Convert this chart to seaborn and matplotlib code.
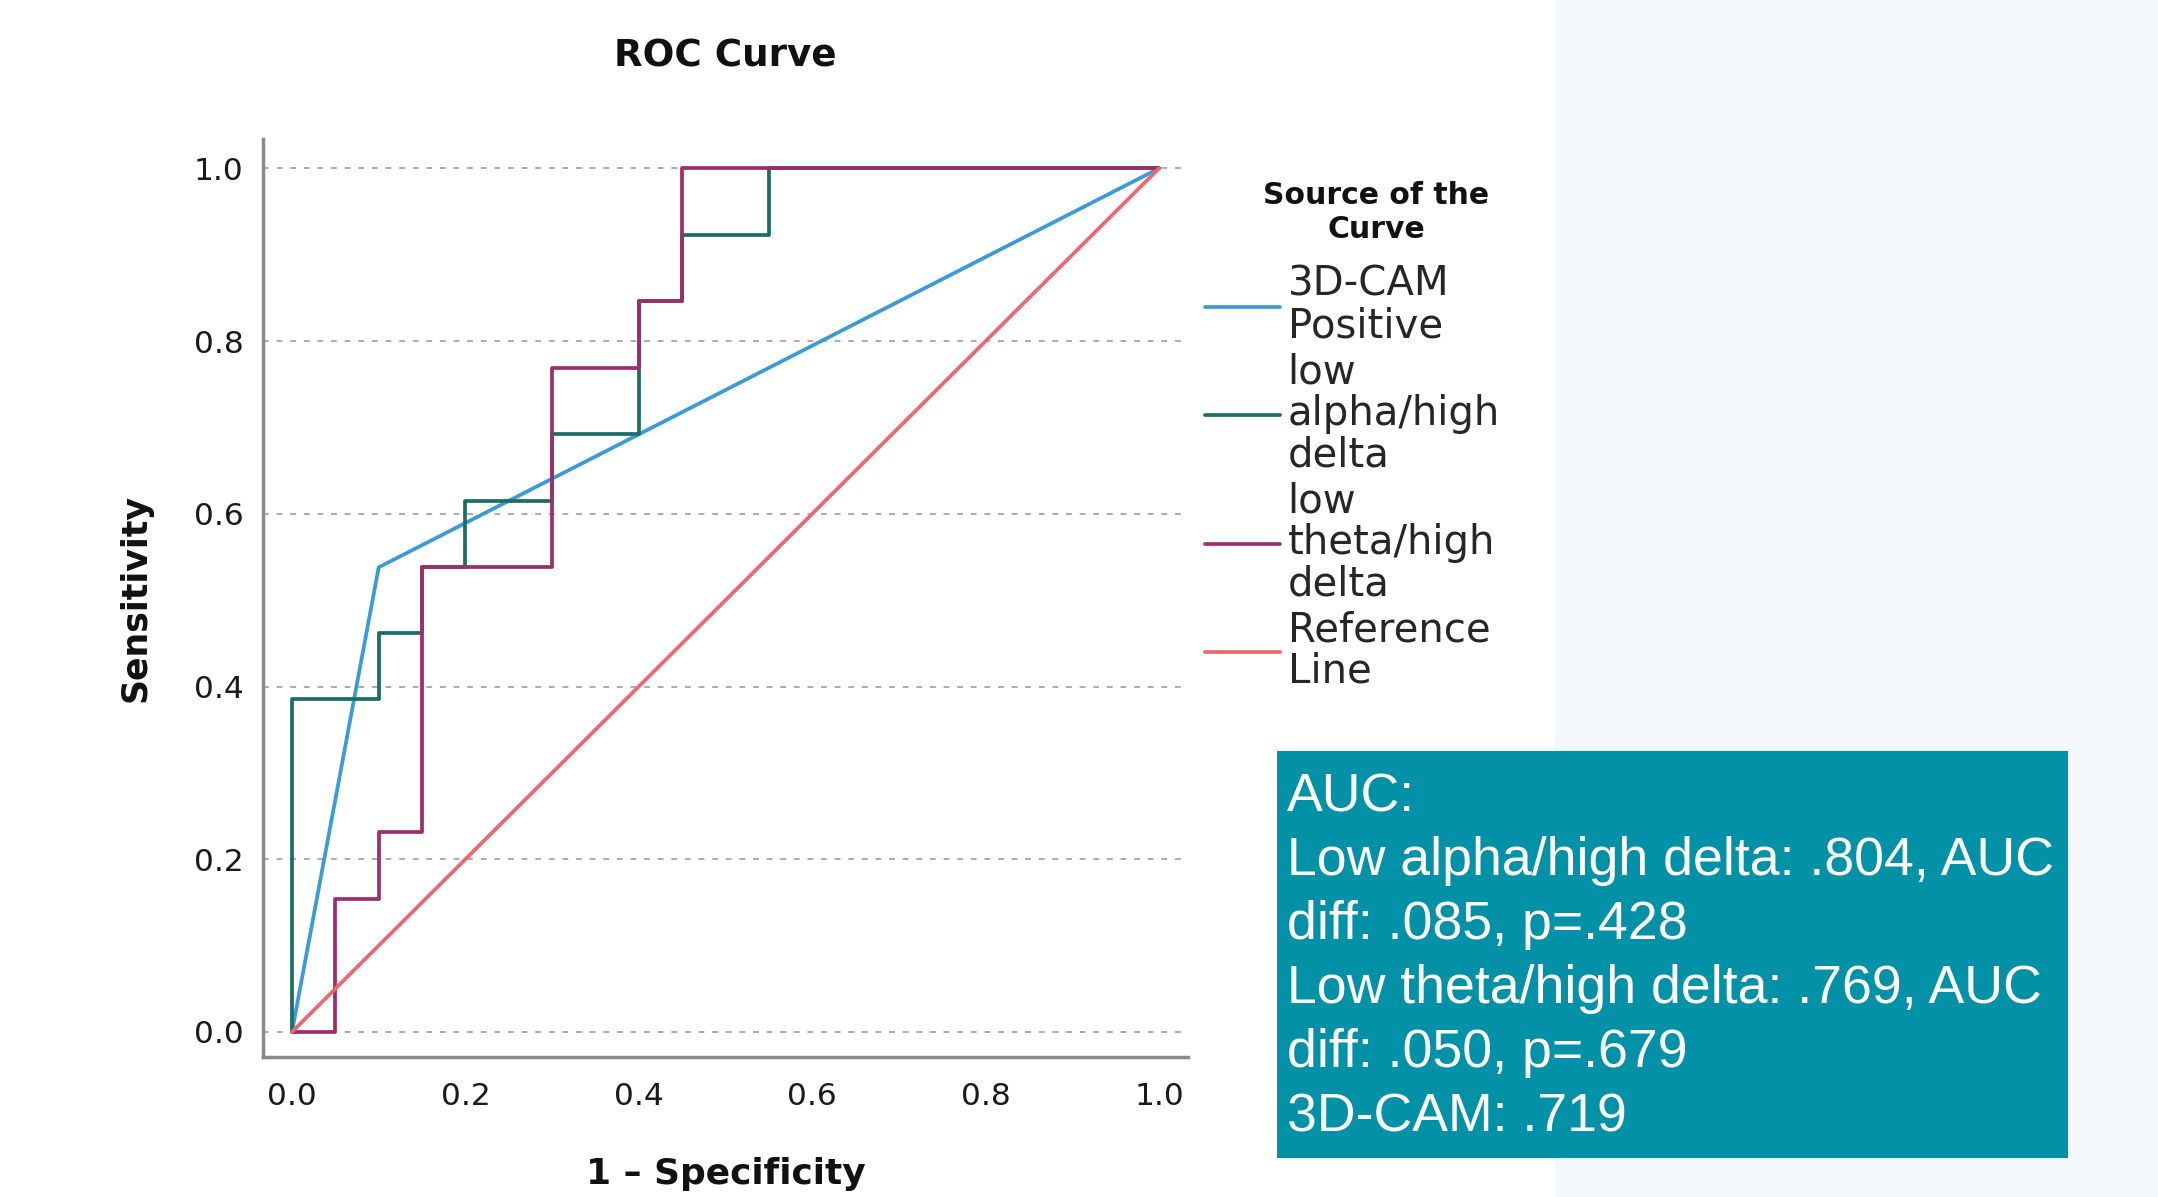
"""ROC curve slide: three classifiers against the reference diagonal, with AUC summary box."""

import pandas as pd
import matplotlib.pyplot as plt
import seaborn as sns
from matplotlib.patches import Rectangle

sns.set_theme(style="white")
plt.rcParams['font.family'] = ['DejaVu Sans']

# ROC corner points (1 - specificity, sensitivity)
cam_fpr = [0.0, 0.10, 1.0]
cam_tpr = [0.0, 0.538, 1.0]

alpha_fpr = [0.0, 0.0, 0.10, 0.15, 0.20, 0.30, 0.40, 0.45, 0.55, 1.0]
alpha_tpr = [0.0, 0.385, 0.462, 0.538, 0.615, 0.692, 0.846, 0.923, 1.0, 1.0]

theta_fpr = [0.0, 0.05, 0.10, 0.15, 0.30, 0.40, 0.45, 1.0]
theta_tpr = [0.0, 0.154, 0.231, 0.538, 0.769, 0.846, 1.0, 1.0]

ref_fpr = [0.0, 1.0]
ref_tpr = [0.0, 1.0]

series_names = ["3D-CAM\nPositive", "low\nalpha/high\ndelta", "low\ntheta/high\ndelta", "Reference\nLine"]
series_colors = ["#3b9bd8", "#1d6d66", "#9c2f6b", "#ea6870"]

tick_values = [0.0, 0.2, 0.4, 0.6, 0.8, 1.0]
tick_labels = ["0.0", "0.2", "0.4", "0.6", "0.8", "1.0"]

auc_lines = [
    "AUC:",
    "Low alpha/high delta: .804, AUC",
    "diff: .085, p=.428",
    "Low theta/high delta: .769, AUC",
    "diff: .050, p=.679",
    "3D-CAM: .719",
]

W, H = 2158, 1197
fig = plt.figure(figsize=(W / 100, H / 100), dpi=100)
fig.patch.set_facecolor("#f3f9fa")
# white panel holding the exported chart
fig.patches.append(Rectangle((0, 0), 1555 / W, 1, transform=fig.transFigure,
                             facecolor="white", edgecolor="none", zorder=-5))

ax = fig.add_axes([263 / W, 1 - 1057 / H, (1188 - 263) / W, (1057 - 139) / H])
ax.set_facecolor("white")
ax.set_zorder(2)

curves = [
    (cam_fpr, cam_tpr, None),
    (alpha_fpr, alpha_tpr, "steps-post"),
    (theta_fpr, theta_tpr, "steps-post"),
    (ref_fpr, ref_tpr, None),
]
for (fx, fy, ds), name, col in zip(curves, series_names, series_colors):
    df = pd.DataFrame({"fpr": fx, "tpr": fy})
    kw = {"drawstyle": ds} if ds else {}
    sns.lineplot(data=df, x="fpr", y="tpr", ax=ax, estimator=None, sort=False,
                 color=col, linewidth=2.7, label=name, **kw)

ax.set_xlim(-0.0334, 1.0334)
ax.set_ylim(-0.029, 1.034)
ax.set_xticks(tick_values)
ax.set_xticklabels(tick_labels)
ax.set_yticks(tick_values)
ax.set_yticklabels(tick_labels)
ax.tick_params(axis="both", length=0, labelsize=22.5, colors="#1a1a1a")
ax.tick_params(axis="y", pad=14)
ax.tick_params(axis="x", pad=18)

for y in tick_values:
    ax.axhline(y, color="#ababab", linestyle=(0, (3, 4)), linewidth=1.4, zorder=0)

for side in ["top", "right"]:
    ax.spines[side].set_visible(False)
for side in ["left", "bottom"]:
    ax.spines[side].set_color("#8a8a8a")
    ax.spines[side].set_linewidth(2.5)

ax.set_title("ROC Curve", fontsize=26.8, fontweight="bold", pad=52, color="#111111")
ax.set_xlabel("1 \u2013 Specificity", fontsize=25.9, fontweight="bold", labelpad=33, color="#111111")
ax.set_ylabel("Sensitivity", fontsize=25, fontweight="bold", labelpad=30, color="#111111")

leg = ax.legend(loc="upper left", bbox_to_anchor=(1205 / W, 1 - 265 / H),
                bbox_transform=fig.transFigure, frameon=False, fontsize=29,
                handlelength=1.85, handletextpad=0.2, labelspacing=0.13,
                borderpad=0, borderaxespad=0)
for t in leg.get_texts():
    t.set_linespacing(1.06)

# legend heading, centred above the entries
fig.text(1376 / W, 1 - 181 / H, "Source of the\nCurve", fontsize=21.5, fontweight="bold",
         ha="center", va="top", multialignment="center", linespacing=1.2, color="#111111")

# AUC summary box
fig.patches.append(Rectangle((1277 / W, 1 - 1158 / H), (2068 - 1277) / W, (1158 - 751) / H,
                             transform=fig.transFigure, facecolor="#0391a7",
                             edgecolor="none", zorder=3))
fig.text(1287 / W, 1 - 772 / H, "\n".join(auc_lines), color="white",
         family="Liberation Sans", fontsize=38.6, va="top", ha="left",
         linespacing=1.36, zorder=4)

fig.savefig("out.png", dpi=100, facecolor=fig.get_facecolor())
